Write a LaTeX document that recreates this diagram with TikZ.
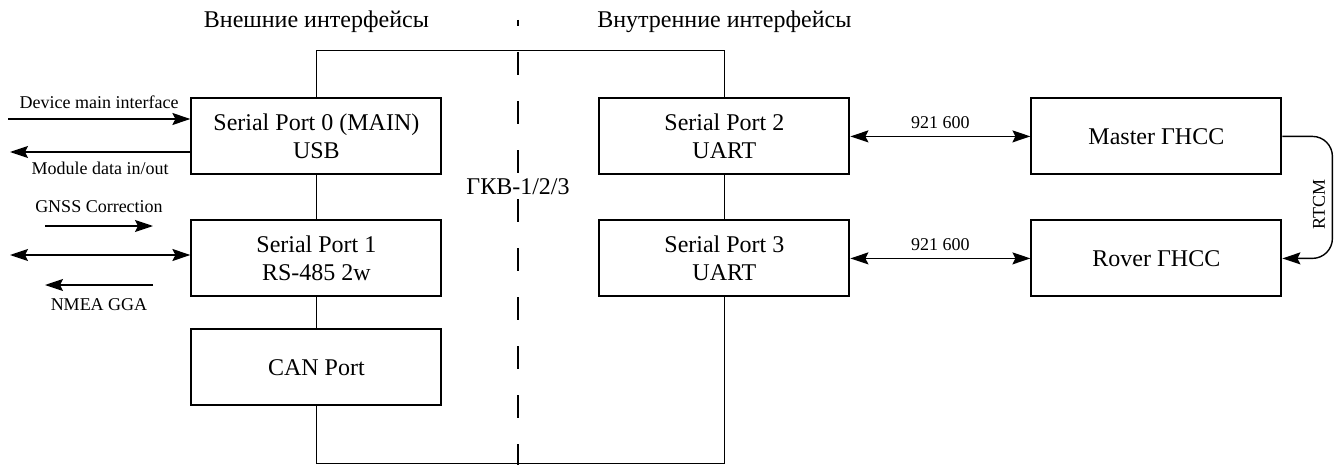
\documentclass[tikz,border=0pt]{standalone}
\usepackage{fontspec}
\setmainfont{Liberation Serif}
\usetikzlibrary{arrows.meta}

\begin{document}
\begin{tikzpicture}[x=0.5pt,y=-0.5pt,
  every matrix/.style={ampersand replacement=\&,column sep=78pt,row sep=22pt,inner sep=0pt},
  port/.style={draw,line width=1pt,minimum width=125pt,minimum height=38pt,inner sep=0pt,font=\fontsize{12}{14}\selectfont},
  heading/.style={font=\fontsize{12}{14}\selectfont},
  lbl/.style={font=\fontsize{9}{10}\selectfont},
  bus/.style={line width=0.7pt},
  divider/.style={line width=0.7pt,dash pattern=on 11.5pt off 13pt,dash phase=8.5pt},
  flow/.style={line width=0.7pt,-{Stealth[length=9pt,width=6pt,inset=1.5pt]}},
  twoway/.style={line width=0.7pt,{Stealth[length=9pt,width=6pt,inset=1.5pt]}-{Stealth[length=9pt,width=6pt,inset=1.5pt]}},
  every node/.style={align=center}]

\useasboundingbox (0,0) rectangle (1343,465);

% Ports of the receiver and the two GNSS modules
\matrix[anchor=north west] (ports) at (190,97) {
    \node[port] (sp0) {Serial Port 0 (MAIN)\\USB};
    \& \node[port] (sp2) {Serial Port 2\\UART};
    \&[12pt] \node[port] (master) {Master ГНСС};
    \\
    \node[port] (sp1) {Serial Port 1\\RS-485 2w};
    \& \node[port] (sp3) {Serial Port 3\\UART};
    \& \node[port] (rover) {Rover ГНСС};
    \\[-6.5pt]
    \node[port] (can) {CAN Port};
    \\
  };

% Headings and the divider between both sides
\node[heading] (extTitle) at (sp0.north |- 0,22) {Внешние интерфейсы};
\node[heading] (intTitle) at (sp2.north |- 0,22) {Внутренние интерфейсы};
\coordinate (divTop) at (518,20);
\coordinate (divBottom) at (518,465);
\draw[divider] (divTop) -- (divBottom);
\node[heading] (gkv) at (518,187) {ГКВ-1/2/3};

% Internal bus
\draw[bus] (sp0.north) -- ++(0,-47) -| (sp2.north);
\draw[bus] (sp0) -- (sp1);
\draw[bus] (sp1) -- (can);
\draw[bus] (sp2) -- (sp3);
\draw[bus] (can.south) -- ++(0,57) -| (sp3.south);

% External links
\coordinate (devIn) at (8,119);
\coordinate (modOut) at (10,152);
\coordinate (gnssFrom) at (45,226);
\coordinate (gnssTo) at (153,226);
\coordinate (rsEnd) at (10,255);
\coordinate (nmeaFrom) at (153,285);
\coordinate (nmeaTo) at (45,285);

\draw[flow] (devIn) -- (devIn -| sp0.west) node[lbl,midway,above=1.5pt] {Device main interface};
\draw[flow] (modOut -| sp0.west) -- (modOut) node[lbl,midway,below=1.5pt] {Module data in/out};
\draw[flow] (gnssFrom) -- (gnssTo) node[lbl,midway,above=3pt] {GNSS Correction};
\draw[twoway] (rsEnd) -- (rsEnd -| sp1.west);
\draw[flow] (nmeaFrom) -- (nmeaTo) node[lbl,midway,below=3pt] {NMEA GGA};

% Internal links to the GNSS modules
\draw[twoway] (sp2) -- (master) node[lbl,midway,above] {921 600};
\draw[twoway] (sp3) -- (rover) node[lbl,midway,above] {921 600};
\draw[flow,rounded corners=10pt] (master.east) -- ++(50,0) |- node[lbl,pos=0.28,rotate=90,above] {RTCM} (rover.east);

\end{tikzpicture}
\end{document}
